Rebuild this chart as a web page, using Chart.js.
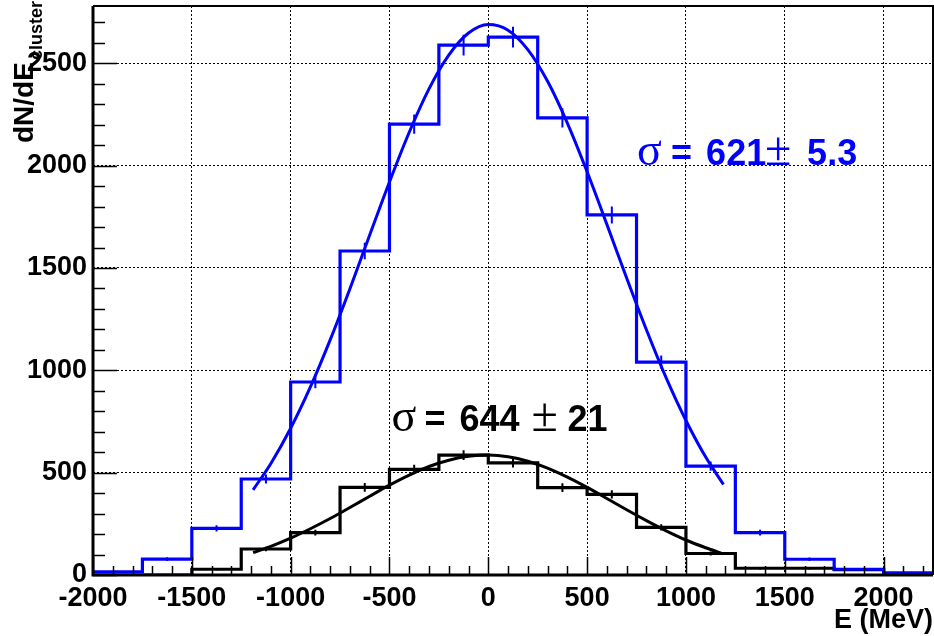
<!DOCTYPE html>
<html>
<head>
<meta charset="utf-8">
<script src="https://cdn.jsdelivr.net/npm/chart.js@4.4.0/dist/chart.umd.min.js"></script>
<style>
  body { margin: 0; background: #fff; }
  #wrap { width: 934px; height: 636px; }
</style>
</head>
<body>
<div id="wrap"><canvas id="energyChart" width="934" height="636"></canvas></div>
<script>
// bin edges of both histograms (MeV)
const binEdges = [-2000, -1750, -1500, -1250, -1000, -750, -500, -250, 0, 250, 500, 750, 1000, 1250, 1500, 1750, 2000, 2250];
// counts per bin
const blueCounts = [16, 78, 228, 469, 943, 1583, 2203, 2589, 2628, 2233, 1759, 1040, 532, 207, 77, 28, 11];
const blackCounts = [0, 0, 28, 127, 207, 428, 516, 586, 548, 427, 394, 233, 105, 33, 33, 26, 0];
// error bar half-lengths
const blueErrors = [4, 9, 15, 22, 31, 40, 47, 51, 51, 47, 42, 32, 23, 14, 9, 5, 3];
const blackErrors = [0, 0, 5, 11, 14, 21, 23, 24, 23, 21, 20, 15, 10, 6, 6, 5, 0];
// fit curves
const fitX = [-1190, -1100, -1000, -900, -800, -700, -600, -500, -400, -300, -200, -100, 0, 100, 200, 300, 400, 500, 600, 700, 800, 900, 1000, 1100, 1190];
const blueFit = [416, 545, 717, 919, 1149, 1399, 1661, 1920, 2163, 2375, 2540, 2648, 2690, 2662, 2567, 2412, 2208, 1970, 1713, 1451, 1198, 963, 755, 576, 442];
const blackFit = [109, 140, 180, 226, 276, 330, 385, 439, 488, 530, 561, 580, 586, 578, 556, 522, 478, 428, 374, 319, 266, 216, 171, 133, 103];
// axis
const xTicks = [-2000, -1500, -1000, -500, 0, 500, 1000, 1500, 2000];
const yTicks = [0, 500, 1000, 1500, 2000, 2500];
const xRange = [-2000, 2250];
const yRange = [0, 2780];
// fit results
const blueLabel = ['σ', '=', '621', '±', '5.3'];
const blackLabel = ['σ', '=', '644', '±', '21'];

const BLUE = '#0000ff';
const BLACK = '#000000';
const SANS = '"Liberation Sans", Arial, Helvetica, sans-serif';
const SERIF = '"Liberation Serif", "Times New Roman", serif';

function histPoints(counts) {
    const pts = counts.map((c, i) => ({ x: binEdges[i], y: c }));
    pts.push({ x: binEdges[counts.length], y: counts[counts.length - 1] });
    return pts;
}

function errorPoints(counts, errors) {
    const pts = [];
    counts.forEach((c, i) => {
        if (!errors[i]) return;
        const mid = (binEdges[i] + binEdges[i + 1]) / 2;
        pts.push({ x: mid, y: c - errors[i] }, { x: mid, y: c + errors[i] }, { x: mid, y: null });
    });
    return pts;
}

function fitPoints(values) {
    return values.map((v, i) => ({ x: fitX[i], y: v }));
}

// frame + inward ticks like the original plot
const frameTicks = {
    id: 'frameTicks',
    afterDatasetsDraw(chart) {
        const { ctx, chartArea: a, scales: { x, y } } = chart;
        ctx.save();
        ctx.strokeStyle = BLACK;
        ctx.lineWidth = 1.5;
        ctx.beginPath();
        for (let v = xRange[0]; v <= xRange[1]; v += 100) {
            const px = Math.round(x.getPixelForValue(v)) + 0.5;
            const len = xTicks.includes(v) ? 18 : 9;
            ctx.moveTo(px, a.bottom);
            ctx.lineTo(px, a.bottom - len);
        }
        for (let v = yRange[0]; v <= yRange[1]; v += 100) {
            const py = Math.round(y.getPixelForValue(v)) + 0.5;
            const len = yTicks.includes(v) ? 24 : 12;
            ctx.moveTo(a.left, py);
            ctx.lineTo(a.left + len, py);
        }
        ctx.stroke();

        ctx.lineWidth = 2;
        ctx.beginPath();
        ctx.moveTo(a.left, a.top);
        ctx.lineTo(a.right, a.top);
        ctx.lineTo(a.right, a.bottom);
        ctx.stroke();
        ctx.lineWidth = 3;
        ctx.beginPath();
        ctx.moveTo(a.left, a.top);
        ctx.lineTo(a.left, a.bottom);
        ctx.lineTo(a.right, a.bottom);
        ctx.stroke();
        ctx.restore();
    }
};

function drawSigma(ctx, parts, offsets, px, py, color) {
    ctx.fillStyle = color;
    ctx.textBaseline = 'alphabetic';
    ctx.textAlign = 'left';
    parts.forEach((p, i) => {
        if (p === 'σ') ctx.font = '46px ' + SERIF;
        else if (p === '±') ctx.font = '48px ' + SERIF;
        else ctx.font = 'bold 36px ' + SANS;
        ctx.fillText(p, px + offsets[i], py);
    });
}

const textLabels = {
    id: 'textLabels',
    afterDraw(chart) {
        const { ctx, chartArea: a, scales: { x, y } } = chart;
        ctx.save();
        // fit labels
        drawSigma(ctx, blueLabel, [0, 34, 69, 128, 170], x.getPixelForValue(753), y.getPixelForValue(2003), BLUE);
        drawSigma(ctx, blackLabel, [0, 33, 68, 140, 176], x.getPixelForValue(-490), y.getPixelForValue(703), BLACK);

        // x title
        ctx.fillStyle = BLACK;
        ctx.font = 'bold 27px ' + SANS;
        ctx.textAlign = 'right';
        ctx.fillText('E (MeV)', a.right, 628);

        // y title with subscript
        ctx.translate(33, 143);
        ctx.rotate(-Math.PI / 2);
        ctx.textAlign = 'left';
        ctx.font = 'bold 28px ' + SANS;
        ctx.fillText('dN/dE', 0, 0);
        const w = ctx.measureText('dN/dE').width;
        ctx.font = 'bold 18px ' + SANS;
        ctx.fillText('cluster', w + 2, 9);
        ctx.restore();
    }
};

const tickFont = { family: SANS, size: 27, weight: 'bold' };

new Chart(document.getElementById('energyChart'), {
    type: 'line',
    data: {
        datasets: [
            { label: 'blue fit', data: fitPoints(blueFit), borderColor: BLUE, borderWidth: 3, pointRadius: 0, cubicInterpolationMode: 'monotone', order: 1 },
            { label: 'blue errors', data: errorPoints(blueCounts, blueErrors), borderColor: BLUE, borderWidth: 2, pointRadius: 0, spanGaps: false, order: 2 },
            { label: 'blue hist', data: histPoints(blueCounts), borderColor: BLUE, borderWidth: 3.2, pointRadius: 0, stepped: true, order: 3 },
            { label: 'black fit', data: fitPoints(blackFit), borderColor: BLACK, borderWidth: 3, pointRadius: 0, cubicInterpolationMode: 'monotone', order: 4 },
            { label: 'black errors', data: errorPoints(blackCounts, blackErrors), borderColor: BLACK, borderWidth: 2, pointRadius: 0, spanGaps: false, order: 5 },
            { label: 'black hist', data: histPoints(blackCounts), borderColor: BLACK, borderWidth: 3.2, pointRadius: 0, stepped: true, order: 6 }
        ]
    },
    options: {
        responsive: false,
        animation: false,
        layout: { padding: { top: 6, right: 1, left: 0, bottom: 0 } },
        plugins: { legend: { display: false }, tooltip: { enabled: false } },
        scales: {
            x: {
                type: 'linear',
                min: xRange[0],
                max: xRange[1],
                afterBuildTicks: (s) => { s.ticks = xTicks.map(v => ({ value: v })); },
                afterFit: (s) => { s.height = 61; s.paddingLeft = 0; s.paddingRight = 0; },
                ticks: { font: tickFont, color: BLACK, padding: 7, maxRotation: 0, autoSkip: false, callback: (v) => String(v) },
                grid: { color: BLACK, lineWidth: 1, drawTicks: false },
                border: { display: false, dash: [2, 2] }
            },
            y: {
                type: 'linear',
                min: yRange[0],
                max: yRange[1],
                afterBuildTicks: (s) => { s.ticks = yTicks.map(v => ({ value: v })); },
                afterFit: (s) => { s.width = 93; s.paddingTop = 0; s.paddingBottom = 0; },
                ticks: { font: tickFont, color: BLACK, padding: 6, callback: (v) => String(v) },
                grid: { color: BLACK, lineWidth: 1, drawTicks: false },
                border: { display: false, dash: [2, 2] }
            }
        }
    },
    plugins: [frameTicks, textLabels]
});
</script>
</body>
</html>
